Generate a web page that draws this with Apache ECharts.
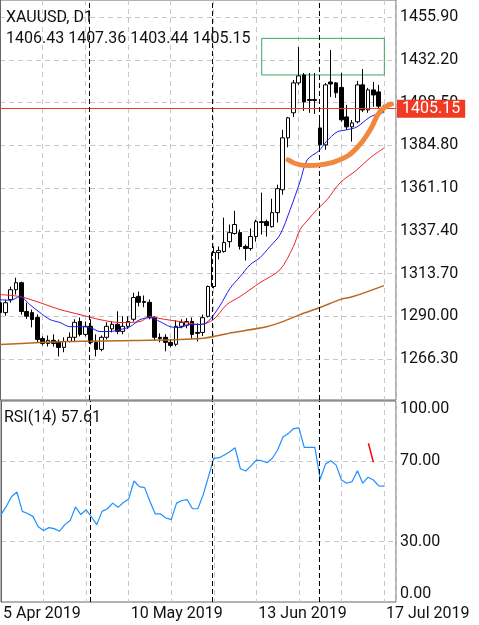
<!DOCTYPE html>
<html>
<head>
<meta charset="utf-8">
<title>XAUUSD D1</title>
<script src="https://cdn.jsdelivr.net/npm/echarts@6/dist/echarts.min.js"></script>
<style>
  html, body { margin: 0; padding: 0; background: #fff; }
  #chart { width: 479px; height: 625px; }
</style>
</head>
<body>
<div id="chart"></div>
<script>
const dates = [
  "5 Apr 2019", "8 Apr 2019", "9 Apr 2019", "10 Apr 2019", "11 Apr 2019", "12 Apr 2019",
  "15 Apr 2019", "16 Apr 2019", "17 Apr 2019", "18 Apr 2019", "22 Apr 2019", "23 Apr 2019",
  "24 Apr 2019", "25 Apr 2019", "26 Apr 2019", "29 Apr 2019", "30 Apr 2019",
  "1 May 2019", "2 May 2019", "3 May 2019", "6 May 2019", "7 May 2019", "8 May 2019",
  "9 May 2019", "10 May 2019", "13 May 2019", "14 May 2019", "15 May 2019", "16 May 2019",
  "17 May 2019", "20 May 2019", "21 May 2019", "22 May 2019", "23 May 2019", "24 May 2019",
  "27 May 2019", "28 May 2019", "29 May 2019", "30 May 2019", "31 May 2019",
  "3 Jun 2019", "4 Jun 2019", "5 Jun 2019", "6 Jun 2019", "7 Jun 2019", "10 Jun 2019",
  "11 Jun 2019", "12 Jun 2019", "13 Jun 2019", "14 Jun 2019", "17 Jun 2019", "18 Jun 2019",
  "19 Jun 2019", "20 Jun 2019", "21 Jun 2019", "24 Jun 2019", "25 Jun 2019", "26 Jun 2019",
  "27 Jun 2019", "28 Jun 2019",
  "1 Jul 2019", "2 Jul 2019", "3 Jul 2019", "4 Jul 2019", "5 Jul 2019", "8 Jul 2019",
  "9 Jul 2019", "10 Jul 2019", "11 Jul 2019", "12 Jul 2019", "15 Jul 2019", "16 Jul 2019",
  "17 Jul 2019", "18 Jul 2019", "19 Jul 2019",
];

// open, high, low, close
const candles = [
  [1297.5, 1299.2, 1286.5, 1292.0], [1292.0, 1299.2, 1290.3, 1297.5],
  [1299.2, 1306.4, 1297.5, 1304.7], [1304.7, 1311.4, 1302.0, 1308.6],
  [1308.6, 1309.2, 1290.9, 1292.6], [1292.6, 1297.5, 1288.5, 1290.0],
  [1292.0, 1293.7, 1283.8, 1288.2], [1289.3, 1291.0, 1275.5, 1277.1],
  [1277.6, 1278.8, 1273.8, 1274.9], [1274.9, 1279.3, 1273.2, 1276.6],
  [1276.6, 1279.9, 1273.2, 1274.9], [1276.0, 1277.1, 1267.7, 1272.7],
  [1272.7, 1278.3, 1270.0, 1276.0], [1276.0, 1281.0, 1275.5, 1278.3],
  [1278.3, 1288.3, 1276.0, 1286.6], [1287.1, 1289.3, 1278.8, 1279.9],
  [1279.9, 1287.1, 1278.8, 1284.4], [1284.4, 1288.3, 1274.4, 1275.5],
  [1275.5, 1279.9, 1267.7, 1271.6], [1271.6, 1279.3, 1270.5, 1278.3],
  [1278.3, 1286.6, 1277.1, 1284.4], [1283.0, 1287.1, 1281.0, 1285.5],
  [1285.5, 1292.7, 1280.0, 1281.6], [1281.6, 1290.0, 1280.0, 1284.4],
  [1284.4, 1289.9, 1283.0, 1287.1], [1288.3, 1303.0, 1287.1, 1300.4],
  [1301.0, 1303.7, 1295.4, 1297.7], [1298.2, 1301.5, 1295.0, 1297.7],
  [1297.7, 1299.3, 1288.3, 1289.3], [1289.3, 1290.0, 1276.6, 1278.3],
  [1278.3, 1280.5, 1275.5, 1277.7], [1278.3, 1280.0, 1270.5, 1275.5],
  [1275.5, 1277.0, 1272.7, 1273.8], [1274.4, 1287.7, 1273.3, 1284.4],
  [1284.4, 1288.3, 1283.3, 1286.6], [1285.0, 1288.9, 1283.3, 1287.0],
  [1287.1, 1289.3, 1277.7, 1279.9], [1281.0, 1286.0, 1276.0, 1280.5],
  [1281.0, 1290.9, 1279.0, 1289.2], [1289.9, 1307.0, 1289.3, 1306.5],
  [1306.5, 1328.7, 1305.5, 1325.3], [1325.3, 1328.7, 1321.5, 1326.4],
  [1325.9, 1344.7, 1325.3, 1330.9], [1331.4, 1340.9, 1328.1, 1336.4],
  [1335.9, 1348.5, 1335.3, 1340.9], [1336.4, 1338.1, 1327.0, 1328.7],
  [1328.7, 1329.8, 1320.9, 1327.6], [1327.6, 1338.7, 1326.4, 1334.2],
  [1334.2, 1343.6, 1331.4, 1342.5], [1342.0, 1358.6, 1335.3, 1342.5],
  [1342.5, 1343.6, 1334.2, 1340.3], [1339.7, 1355.2, 1339.2, 1347.5],
  [1347.5, 1363.0, 1342.0, 1360.8], [1360.2, 1393.4, 1357.5, 1389.0],
  [1389.0, 1400.6, 1383.7, 1400.1], [1402.9, 1421.1, 1400.6, 1419.5],
  [1419.5, 1439.4, 1418.4, 1423.4], [1423.9, 1425.0, 1404.0, 1408.9],
  [1410.3, 1425.0, 1402.9, 1409.7], [1409.7, 1425.0, 1402.3, 1410.3],
  [1394.5, 1399.0, 1383.4, 1385.1], [1385.1, 1419.5, 1382.4, 1418.4],
  [1420.0, 1437.7, 1411.7, 1418.9], [1419.5, 1420.0, 1411.2, 1414.0],
  [1417.0, 1425.0, 1397.9, 1399.0], [1400.6, 1407.3, 1393.4, 1395.1],
  [1395.1, 1398.9, 1386.9, 1397.3], [1397.9, 1420.6, 1397.0, 1418.4],
  [1418.4, 1427.2, 1403.4, 1404.5], [1404.5, 1416.7, 1402.9, 1415.6],
  [1415.6, 1420.0, 1406.2, 1412.8], [1414.5, 1418.4, 1405.6, 1406.6],
  [1406.43, 1407.36, 1403.44, 1405.15],
];

// moving averages: [bar index, price]
const maFast = [
  [0, 1299.2], [1.9, 1298.8], [3.75, 1300.9], [5.6, 1296.4], [7.5, 1292.0], [9.4, 1288.1],
  [11.25, 1286.5], [13.1, 1284.2], [15, 1284.2], [16.9, 1283.7], [18.75, 1281.5],
  [20.6, 1281.5], [22.5, 1282.6], [24.4, 1284.2], [26.25, 1288.1], [28.1, 1289.2],
  [30, 1287.0], [31.9, 1284.2], [33.75, 1283.7], [35.6, 1285.4], [37.5, 1285.4],
  [39, 1287.0], [41.25, 1295.9], [43.1, 1305.3], [45, 1311.9], [46.9, 1318.6],
  [48.75, 1322.5], [50.6, 1328.6], [52.5, 1335.2], [54.4, 1349.1], [56.25, 1364.6],
  [57.6, 1376.8], [59.8, 1381.8], [61.2, 1387.0], [63.2, 1392.3], [64.9, 1393.4],
  [66.9, 1395.0], [69.4, 1400.6], [71.5, 1402.8], [72, 1403.0],
];
const maMid = [
  [0, 1302.0], [3.75, 1300.9], [7.5, 1297.5], [11.25, 1293.7], [15, 1290.9],
  [18.75, 1288.1], [22.5, 1286.5], [26.25, 1287.0], [28.1, 1289.8], [30, 1288.7],
  [33.75, 1287.0], [37.5, 1285.4], [40, 1288.1], [42.5, 1296.4], [45, 1300.9],
  [48.75, 1308.6], [52.5, 1315.8], [55, 1328.6], [56.25, 1338.0], [57.75, 1343.5],
  [59.4, 1349.1], [61.3, 1354.6], [63.75, 1364.0], [66.9, 1371.2], [69.4, 1377.9],
  [72, 1383.4],
];
const maSlow = [
  [0, 1274.3], [12.5, 1276.0], [25, 1276.5], [37.5, 1277.6], [43.7, 1281.0],
  [50, 1284.2], [53, 1287.0], [56.25, 1290.9], [60, 1294.8], [63.75, 1299.2],
  [66.2, 1300.9], [72, 1307.0],
];

const rsi = [
  43.5, 47.6, 52.5, 54.7, 45.1, 44.0, 42.6, 37.4, 35.6, 37.0,
  36.5, 35.2, 38.5, 40.5, 47.3, 43.5, 45.9, 42.3, 38.5, 45.1,
  46.4, 49.2, 47.1, 49.5, 51.2, 60.2, 57.4, 56.9, 50.0, 43.8,
  43.8, 41.8, 41.0, 49.2, 50.5, 50.9, 46.4, 46.4, 53.3, 62.4,
  71.5, 71.8, 73.1, 74.7, 76.7, 66.3, 65.2, 67.7, 70.6, 70.3,
  69.3, 71.5, 75.6, 82.1, 83.8, 86.3, 86.6, 76.9, 76.9, 76.9,
  61.1, 68.6, 70.3, 68.1, 60.7, 59.1, 59.9, 65.3, 59.1, 62.1,
  60.7, 57.8, 57.61,
];

const priceTicks = [1266.3, 1290.0, 1313.7, 1337.4, 1361.1, 1384.8, 1408.5, 1432.2, 1455.9];
const rsiTicks = [0, 30, 70, 100];
const rsiLevels = [30, 70];
const monthStarts = [17, 40, 60];
const dateLabelIdx = [0, 24, 48, 72];

// hand drawn marks on the chart
const drawnArc = [
  [54, 1376.8], [56.25, 1374.0], [58, 1373.6], [60, 1374.0], [63.75, 1376.8],
  [66.9, 1383.4], [69.4, 1393.4], [71.25, 1403.5], [73.4, 1407.8],
];
const drawnRsiStroke = [[69.06, 79], [70, 69.6]];
const drawnBox = [[49.07, 1444.2], [72.06, 1423.9]];

const FONT = "Roboto";
const RED = "#ef3b24";
const last = candles[candles.length - 1];
const lastClose = last[3];

const chart = echarts.init(document.getElementById("chart"));

const axisText = { color: "#111", fontSize: 16, fontFamily: FONT };
const headText = { fontSize: 16, fontWeight: "normal", color: "#111", fontFamily: FONT };
const gridLine = {
  show: true,
  lineStyle: { color: "#c8c8c8", type: [5, 4], width: 1 },
};
const separators = monthStarts.map((i) => ({
  xAxis: i - 0.2,
  label: { show: false },
  lineStyle: { color: "#000", type: [5, 3], width: 1 },
}));

const option = {
  animation: false,
  backgroundColor: "#fff",
  textStyle: { fontFamily: FONT },
  title: [
    { text: "XAUUSD, D1", left: 6, top: 10, padding: 0, textStyle: headText },
    {
      text: last.map((v) => v.toFixed(2)).join(" "),
      left: 6,
      top: 31,
      padding: 0,
      textStyle: headText,
    },
    {
      text: "RSI(14) " + rsi[rsi.length - 1].toFixed(2),
      left: 4,
      top: 410,
      padding: 0,
      textStyle: headText,
    },
  ],
  grid: [
    { left: 0, top: 0, width: 396, height: 400, show: true, borderColor: "#666", borderWidth: 1 },
    { left: 0, top: 401, width: 396, height: 201, show: true, borderColor: "#666", borderWidth: 1 },
  ],
  xAxis: [
    {
      type: "value",
      gridIndex: 0,
      min: 0,
      max: 74.25,
      interval: 8,
      axisLine: { show: false },
      axisTick: { show: false },
      axisLabel: { show: false },
      splitLine: gridLine,
    },
    {
      type: "value",
      gridIndex: 1,
      min: 0,
      max: 74.25,
      interval: 8,
      axisLine: { show: false },
      axisTick: { show: false },
      axisLabel: {
        customValues: dateLabelIdx,
        formatter: (v) => dates[Math.round(v)],
        align: "left",
        margin: 4,
        padding: [0, 0, 0, 2],
        ...axisText,
      },
      splitLine: gridLine,
    },
  ],
  yAxis: [
    {
      type: "value",
      gridIndex: 0,
      position: "right",
      min: 1243.5,
      max: 1465.5,
      axisLine: { show: true, lineStyle: { color: "#666" } },
      axisTick: { show: false, customValues: priceTicks },
      axisLabel: {
        customValues: priceTicks,
        formatter: (v) => v.toFixed(2),
        margin: 4,
        ...axisText,
      },
      splitLine: gridLine,
    },
    {
      type: "value",
      gridIndex: 1,
      position: "right",
      min: 0,
      max: 100,
      axisLine: { show: true, lineStyle: { color: "#666" } },
      axisTick: { show: false, customValues: rsiLevels },
      axisLabel: {
        customValues: rsiTicks,
        formatter: (v) => v.toFixed(2),
        margin: 4,
        verticalAlignMinLabel: "bottom",
        verticalAlignMaxLabel: "top",
        ...axisText,
      },
      splitLine: gridLine,
    },
  ],
  series: [
    {
      name: "XAUUSD",
      type: "candlestick",
      xAxisIndex: 0,
      yAxisIndex: 0,
      barWidth: 4,
      z: 2,
      itemStyle: {
        color: "#fff",
        color0: "#000",
        borderColor: "#000",
        borderColor0: "#000",
        borderWidth: 1,
      },
      data: candles.map((c, i) => [i, c[0], c[3], c[2], c[1]]),
      markLine: {
        silent: true,
        symbol: ["none", "none"],
        data: [
          {
            yAxis: lastClose,
            lineStyle: { color: RED, type: "solid", width: 1 },
            label: {
              show: true,
              position: "end",
              distance: 1,
              formatter: lastClose.toFixed(2),
              color: "#fff",
              backgroundColor: RED,
              padding: [1, 5, 1, 5],
              fontSize: 16,
              lineHeight: 16,
              fontFamily: FONT,
            },
          },
          ...separators,
        ],
      },
      markArea: {
        silent: true,
        itemStyle: { color: "rgba(0,0,0,0)", borderColor: "#3aa860", borderWidth: 1 },
        data: [[
          { xAxis: drawnBox[0][0], yAxis: drawnBox[0][1] },
          { xAxis: drawnBox[1][0], yAxis: drawnBox[1][1] },
        ]],
      },
    },
    {
      name: "MA slow",
      type: "line",
      xAxisIndex: 0,
      yAxisIndex: 0,
      z: 3,
      smooth: 0.3,
      showSymbol: false,
      lineStyle: { color: "#b8691e", width: 1.5 },
      data: maSlow,
    },
    {
      name: "MA mid",
      type: "line",
      xAxisIndex: 0,
      yAxisIndex: 0,
      z: 3,
      smooth: 0.3,
      showSymbol: false,
      lineStyle: { color: "#ee2222", width: 1 },
      data: maMid,
    },
    {
      name: "MA fast",
      type: "line",
      xAxisIndex: 0,
      yAxisIndex: 0,
      z: 3,
      smooth: 0.3,
      showSymbol: false,
      lineStyle: { color: "#1c1cf0", width: 1 },
      data: maFast,
    },
    {
      name: "arc",
      type: "line",
      xAxisIndex: 0,
      yAxisIndex: 0,
      z: 5,
      smooth: true,
      showSymbol: false,
      lineStyle: { color: "#f0883e", width: 5, cap: "round" },
      data: drawnArc,
    },
    {
      name: "RSI(14)",
      type: "line",
      xAxisIndex: 1,
      yAxisIndex: 1,
      showSymbol: false,
      lineStyle: { color: "#1e8fff", width: 1.2 },
      data: rsi.map((v, i) => [i, v]),
      markLine: {
        silent: true,
        symbol: ["none", "none"],
        data: separators,
      },
    },
    {
      name: "stroke",
      type: "line",
      xAxisIndex: 1,
      yAxisIndex: 1,
      showSymbol: false,
      lineStyle: { color: "#f00", width: 1.5 },
      data: drawnRsiStroke,
    },
  ],
};

chart.setOption(option);
</script>
</body>
</html>
